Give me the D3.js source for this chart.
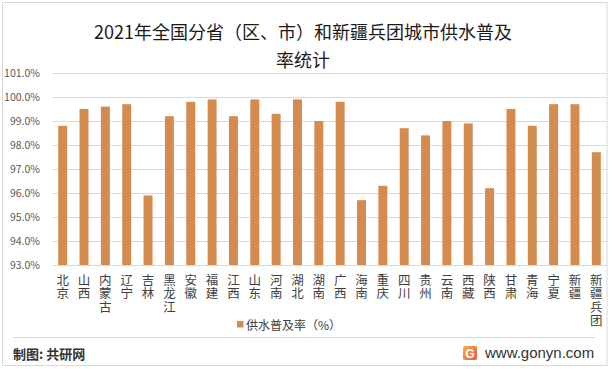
<!DOCTYPE html>
<html><head><meta charset="utf-8">
<script src="https://cdn.jsdelivr.net/npm/d3@7"></script>
<style>
html,body{margin:0;padding:0;background:#fff;}
svg{display:block;font-family:"Noto Sans CJK SC","Noto Sans",sans-serif;}
.vl{writing-mode:vertical-rl;text-orientation:upright;}
</style></head>
<body>
<svg id="c" width="612" height="369"></svg>
<script>
const categories = ["北京","山西","内蒙古","辽宁","吉林","黑龙江","安徽","福建","江西","山东","河南","湖北","湖南","广西","海南","重庆","四川","贵州","云南","西藏","陕西","甘肃","青海","宁夏","新疆","新疆兵团"];
const values = [98.8,99.5,99.6,99.7,95.9,99.2,99.8,99.9,99.2,99.9,99.3,99.9,99.0,99.8,95.7,96.3,98.7,98.4,99.0,98.9,96.2,99.5,98.8,99.7,99.7,97.7];
const yTicks = [93,94,95,96,97,98,99,100,101];
const titleLines = ["2021年全国分省（区、市）和新疆兵团城市供水普及","率统计"];
const seriesName = "供水普及率（%）";
const sourceText = "制图: 共研网";
const siteText = "www.gonyn.com";

const svg = d3.select("#c");
const m = {left:52, right:607, top:73, bottom:265};
const barColor = "#D38B4F";

// border
svg.append("rect").attr("x",2.5).attr("y",2.5).attr("width",604.5).attr("height",363)
  .attr("fill","none").attr("stroke","#d9d9d9").attr("stroke-width",1);

const x = d3.scaleBand().domain(categories).range([m.left,m.right]).paddingInner(0.58).paddingOuter(0.29);
const y = d3.scaleLinear().domain([93,101]).range([m.bottom,m.top]);

// gridlines + y labels
const yAxis = d3.axisLeft(y).tickValues(yTicks).tickSize(-(m.right-m.left)).tickFormat(d=>d3.format(".1f")(d)+"%");
const ga = svg.append("g").attr("transform",`translate(${m.left},0)`).call(yAxis);
ga.select(".domain").remove();
ga.selectAll(".tick line").attr("stroke","#d9d9d9").attr("stroke-width",1);
ga.selectAll(".tick text").attr("x",-12).attr("fill","#595959")
  .style("font-size","10.5px").style("font-family",'"Noto Sans CJK SC",sans-serif');

// bars
svg.append("g").selectAll("rect").data(values).join("rect")
  .attr("x",(d,i)=>x(categories[i]))
  .attr("width",x.bandwidth())
  .attr("y",d=>y(d))
  .attr("height",d=>y(93)-y(d))
  .attr("fill",barColor);

// x labels (stacked vertical, upright characters)
svg.append("g").selectAll("text").data(categories).join("text")
  .attr("class","vl")
  .attr("x",d=>x(d)+x.bandwidth()/2)
  .attr("y",274)
  .attr("fill","#404040")
  .style("font-size","12.5px")
  .style("letter-spacing","0.8px")
  .text(d=>d);

// title
titleLines.forEach((l,i)=>{
  svg.append("text").attr("x",303).attr("y",39+i*28).attr("text-anchor","middle")
    .attr("fill","#1a1a1a").style("font-size","18px").text(l);
});

// legend
svg.append("rect").attr("x",237).attr("y",321).attr("width",6.5).attr("height",6.5).attr("fill",barColor);
svg.append("text").attr("x",246).attr("y",330).attr("fill","#404040").style("font-size","12px").text(seriesName);

// separator
svg.append("line").attr("x1",13).attr("x2",595).attr("y1",337.5).attr("y2",337.5).attr("stroke","#d9d9d9");

// footer
svg.append("text").attr("x",13).attr("y",359).attr("fill","#333").style("font-size","13px").style("font-weight","bold").text(sourceText);

const defs = svg.append("defs");
const lg = defs.append("linearGradient").attr("id","lg").attr("x1",0).attr("y1",0).attr("x2",1).attr("y2",1);
lg.append("stop").attr("offset","0").attr("stop-color","#f7b04a");
lg.append("stop").attr("offset","1").attr("stop-color","#ea5a3c");
svg.append("rect").attr("x",463).attr("y",346).attr("width",14).attr("height",14).attr("rx",2).attr("fill","url(#lg)");
svg.append("text").attr("x",470).attr("y",357.5).attr("text-anchor","middle").attr("fill","#fff")
  .style("font-size","12px").style("font-weight","bold").style("font-family","'Liberation Sans',sans-serif").text("G");
svg.append("text").attr("x",485).attr("y",358).attr("fill","#333").style("font-size","15px")
  .style("font-family","'Liberation Sans',sans-serif").text(siteText);
</script>
</body></html>
